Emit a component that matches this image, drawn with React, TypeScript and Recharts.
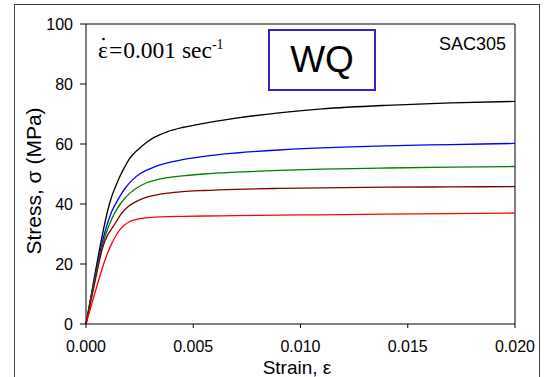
import { LineChart, Line, XAxis, YAxis, ReferenceLine, Customized } from 'recharts';

// stress-strain curves, water quenched SAC305, strain rate 0.001 /s
const strain = [
    0, 0.0004, 0.0008, 0.001, 0.0012, 0.0014, 0.0016, 0.0018, 0.002, 0.0022, 0.0025,
    0.0028, 0.0032, 0.0038, 0.0045, 0.0055, 0.007, 0.009, 0.011, 0.014, 0.017, 0.020,
];

const curveA = [0, 16, 31, 37.5, 42.5, 46.2, 49.5, 52.3, 54.8, 56.6, 58.6, 60.4, 62.3, 64.1, 65.5, 66.9, 68.6, 70.4, 71.7, 72.9, 73.7, 74.2];
const curveB = [0, 15, 28.5, 33.5, 37.5, 40.3, 42.8, 45, 46.8, 48.3, 50, 51.2, 52.4, 53.7, 54.8, 55.9, 57, 58, 58.7, 59.4, 59.8, 60.2];
const curveC = [0, 14.5, 27, 31.5, 35, 37.8, 40, 41.8, 43.3, 44.5, 45.9, 47, 47.9, 48.8, 49.4, 50, 50.6, 51.2, 51.6, 52, 52.3, 52.5];
const curveD = [0, 13.5, 26, 29.5, 31.8, 34, 36.3, 38, 39.3, 40.3, 41.4, 42.2, 42.9, 43.6, 44.1, 44.5, 44.9, 45.2, 45.4, 45.6, 45.7, 45.8];
const curveE = [0, 10, 19.5, 23.5, 26.8, 29.5, 31.6, 33, 34, 34.6, 35.1, 35.4, 35.6, 35.8, 35.9, 36, 36.1, 36.3, 36.4, 36.6, 36.8, 37];

const xTicks = [0, 0.005, 0.01, 0.015, 0.02];
const yTicks = [0, 20, 40, 60, 80, 100];

const rows = strain.map((s, i) => ({
    strain: s,
    a: curveA[i],
    b: curveB[i],
    c: curveC[i],
    d: curveD[i],
    e: curveE[i],
}));

const series = [
    { key: 'a', color: '#000000' },
    { key: 'b', color: '#0000ff' },
    { key: 'c', color: '#008000' },
    { key: 'd', color: '#800000' },
    { key: 'e', color: '#ff0000' },
];

const sans = '"Liberation Sans", Arial, sans-serif';
const serif = '"Liberation Serif", "Times New Roman", serif';

function Annotations() {
    return (
        <g>
            {/* strain-rate note: epsilon with a dot over it */}
            <circle cx={103.5} cy={39} r={1.3} fill="#000" />
            <text x={98} y={58} fontFamily={serif} fontSize={23.5} fill="#000">
                ε
                <tspan dx={1}>=</tspan>
                <tspan dx={1}>0.001 sec</tspan>
                <tspan dy={-9} fontSize={14}>-1</tspan>
            </text>
            <rect x={269} y={30} width={106} height={60} fill="none" stroke="#3322cc" strokeWidth={2} />
            <text x={322} y={72} textAnchor="middle" fontFamily={sans} fontSize={37} fill="#000">WQ</text>
            <text x={506} y={50} textAnchor="end" fontFamily={sans} fontSize={18} fill="#000">SAC305</text>
            <text x={297} y={374} textAnchor="middle" fontFamily={sans} fontSize={19} fill="#000">Strain, ε</text>
            <text transform="translate(41,181) rotate(-90)" textAnchor="middle" fontFamily={sans} fontSize={21} fill="#000">
                Stress, σ (MPa)
            </text>
        </g>
    );
}

export default function App() {
    return (
        <div style={{ position: 'absolute', left: 0, top: 0, width: 546, height: 377, background: '#fff', overflow: 'hidden' }}>
            <div
                style={{
                    position: 'absolute', left: 14, top: 4, width: 526, height: 400,
                    border: '1.5px solid #404040', boxSizing: 'border-box',
                }}
            />
            <div style={{ position: 'absolute', left: 0, top: 0 }}>
                <LineChart width={546} height={377} data={rows} margin={{ top: 24, right: 31, bottom: 23, left: 26 }}>
                    <XAxis
                        type="number"
                        dataKey="strain"
                        domain={[0, 0.02]}
                        ticks={xTicks}
                        tickFormatter={(v: number) => v.toFixed(3)}
                        tickSize={4}
                        tickMargin={13}
                        height={30}
                        stroke="#000"
                        tick={{ fill: '#000', fontSize: 16, fontFamily: sans }}
                    />
                    <YAxis
                        type="number"
                        domain={[0, 100]}
                        ticks={yTicks}
                        tickSize={6}
                        tickMargin={7}
                        width={60}
                        stroke="#000"
                        tick={{ fill: '#000', fontSize: 16, fontFamily: sans }}
                    />
                    <ReferenceLine y={100} stroke="#000" strokeWidth={1} />
                    <ReferenceLine x={0.02} stroke="#000" strokeWidth={1} />
                    {series.map(s => (
                        <Line
                            key={s.key}
                            type="monotone"
                            dataKey={s.key}
                            stroke={s.color}
                            strokeWidth={1.3}
                            dot={false}
                            activeDot={false}
                            isAnimationActive={false}
                        />
                    ))}
                    <Customized component={Annotations} />
                </LineChart>
            </div>
        </div>
    );
}
